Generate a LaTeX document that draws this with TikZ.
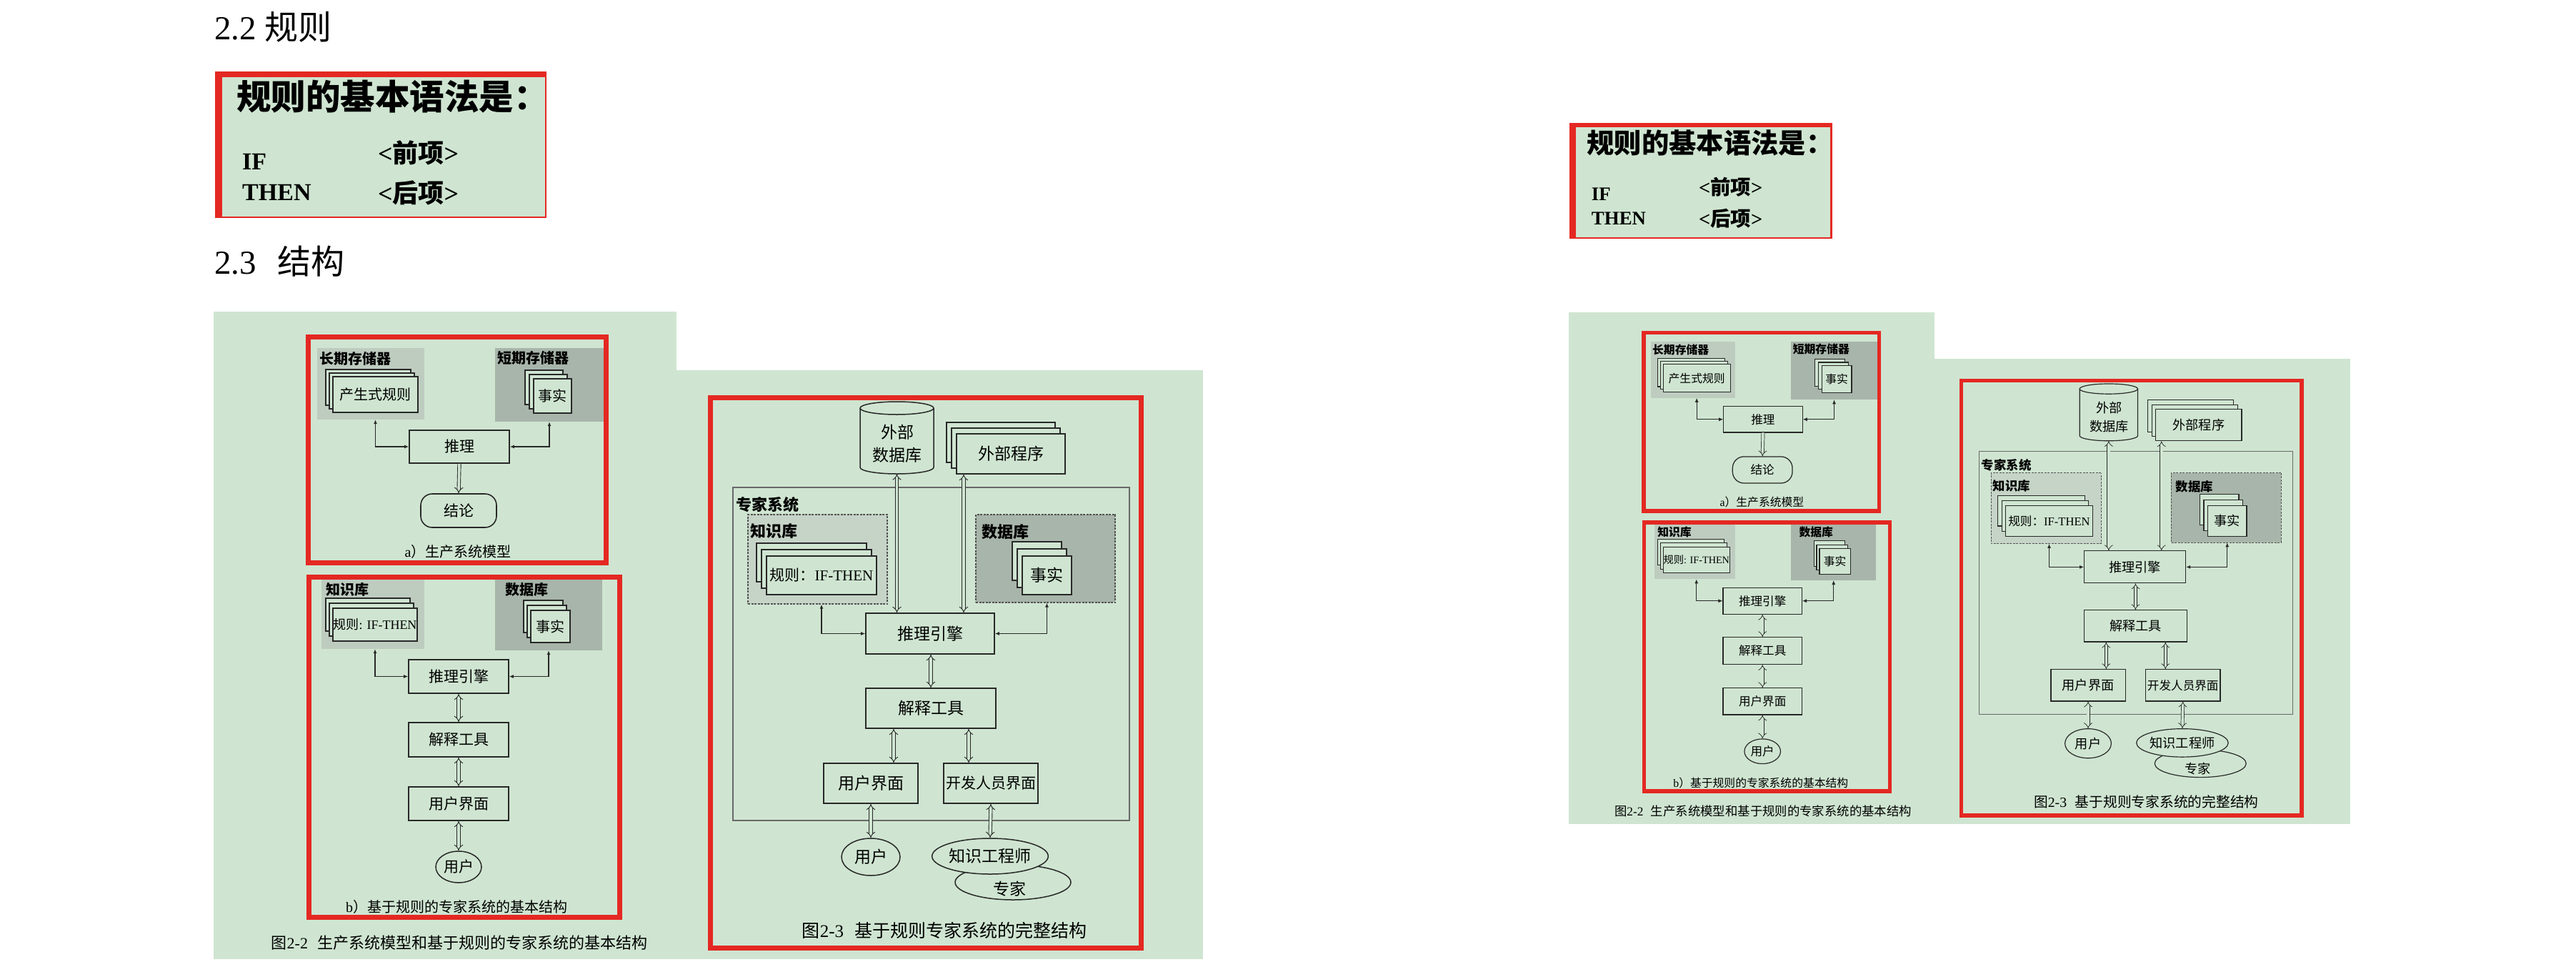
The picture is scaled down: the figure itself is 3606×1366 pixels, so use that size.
\documentclass[tikz,border=0pt]{standalone}
\usepackage{fontspec}
\setmainfont{Liberation Serif}
\newfontfamily\cjk{Noto Sans CJK SC}
\usetikzlibrary{arrows.meta,shapes.geometric}
\definecolor{bggreen}{RGB}{207,229,209}
\definecolor{redb}{RGB}{228,40,34}
\definecolor{greyA}{RGB}{190,204,192}
\definecolor{greyB}{RGB}{168,181,170}
\definecolor{greyC}{RGB}{198,212,200}
\definecolor{ink}{RGB}{40,40,40}
\newcommand\fs[1]{\fontsize{#1}{#1}\selectfont}
\newcommand\LW{1}
\tikzset{
 box/.style={draw=ink,line width=\LW*1.6pt,fill=bggreen,inner sep=0pt,font=\cjk\fs{21}},
 card/.style={draw=ink,line width=\LW*1.5pt,fill=bggreen,inner sep=0pt,font=\cjk\fs{20}},
 region/.style={draw=none,inner sep=0pt},
 dregion/.style={draw=ink!80,line width=\LW*1.2pt,dash pattern=on 3pt off 1.5pt,inner sep=0pt},
 lbl/.style={inner sep=0pt,font=\cjk\bfseries\fs{20}},
 txt/.style={inner sep=0pt,font=\cjk\fs{20}},
 conn/.style={draw=ink,line width=\LW*1.1pt,{Latex[length=6pt,width=5pt]}-{Latex[length=6pt,width=5pt]}},
 dbl/.style={draw=ink,line width=\LW*0.9pt,double=bggreen,double distance=3.5pt},
 dblboth/.style={dbl,{Implies}-{Implies}},
 dblend/.style={dbl,-{Implies}},
 redframe/.style={draw=redb,line width=\LW*7pt},
 ell/.style={ellipse,draw=ink,line width=\LW*1.5pt,fill=bggreen,inner sep=0pt,font=\cjk\fs{21}},
}
\newcommand\rulebox[1]{%
 \fill[bggreen] (301,100) rectangle (765,305);
 \draw[redb,line width=2.5pt] (302.25,101.25) rectangle (763.75,303.75);
 \fill[redb] (300.5,100) rectangle (311,305);
 \fill[redb] (300.5,100) rectangle (765,108);
 \node[anchor=west,inner sep=0pt,font=\cjk\bfseries\fs{48.5}] (#1rt) at (331,135) {规则的基本语法是：};
 \node[anchor=base west,inner sep=0pt,font=\bfseries\fs{34}] (#1if) at (339,237) {IF};
 \node[anchor=base west,inner sep=0pt,font=\bfseries\fs{34}] (#1then) at (339,280) {THEN};
 \node[anchor=base west,inner sep=0pt,font=\bfseries\fs{36}] (#1pre) at (529,227) {<{\cjk 前项}>};
 \node[anchor=base west,inner sep=0pt,font=\bfseries\fs{36}] (#1post) at (529,283) {<{\cjk 后项}>};
}
\newcommand\figs[1]{%
 \fill[bggreen] (299,436) rectangle (947,1342);
 \fill[bggreen] (947,518) rectangle (1684,1342);
 % ---------- (a)
 \node[region,fill=greyA,minimum width=150pt,minimum height=100pt] (#1gl) at (519,537) {};
 \node[region,fill=greyB,minimum width=152pt,minimum height=103pt] (#1gr) at (769,538.5) {};
 \node[lbl] (#1ll) at (497,502) {长期存储器};
 \node[lbl] (#1lr) at (746,501) {短期存储器};
 \node[card,minimum width=119pt,minimum height=50pt] (#1pa) at (515.5,542) {};
 \node[card,minimum width=119pt,minimum height=50pt] (#1pb) at (520.5,547) {};
 \node[card,minimum width=119pt,minimum height=50pt] (#1pc) at (525.5,552) {产生式规则};
 \node[card,minimum width=53pt,minimum height=48pt] (#1fa) at (761.5,542) {};
 \node[card,minimum width=53pt,minimum height=48pt] (#1fb) at (767.5,548) {};
 \node[card,minimum width=53pt,minimum height=48pt] (#1fc) at (773.5,554) {事实};
 \node[box,minimum width=140pt,minimum height=46pt] (#1tl) at (643,625) {推理};
 \node[box,rounded corners=16pt,minimum width=106pt,minimum height=47pt] (#1jl) at (642,714.5) {结论};
 \node[txt] (#1ca) at (641,772) {{\rmfamily a}）生产系统模型};
 \draw[conn] (#1gl.south -| #1pc.south) |- (#1tl.west);
 \draw[conn] (#1gr.south) |- (#1tl.east);
 \draw[dblend] (#1tl.south) -- (#1jl.north);
 \draw[redframe] (431.5,471.5) rectangle (848.5,787.5);
 % ---------- (b)
 \node[region,fill=greyA,minimum width=144pt,minimum height=97pt] (#1gl2) at (522,859.5) {};
 \node[region,fill=greyB,minimum width=150pt,minimum height=99pt] (#1gr2) at (768,860.5) {};
 \node[lbl] (#1lk) at (486,825) {知识库};
 \node[lbl] (#1ld) at (737,825) {数据库};
 \node[card,minimum width=118pt,minimum height=46pt] (#1ra) at (515,860) {};
 \node[card,minimum width=118pt,minimum height=46pt] (#1rb) at (520,867) {};
 \node[card,minimum width=118pt,minimum height=46pt,font=\cjk\fs{18}] (#1rc) at (525,874) {规则{\rmfamily: IF-THEN}};
 \node[card,minimum width=55pt,minimum height=45pt] (#1sa) at (760.5,862.5) {};
 \node[card,minimum width=55pt,minimum height=45pt] (#1sb) at (765.5,869.5) {};
 \node[card,minimum width=55pt,minimum height=45pt] (#1sc) at (770.5,876.5) {事实};
 \node[box,minimum width=140pt,minimum height=47pt] (#1e2) at (642,946.5) {推理引擎};
 \node[box,minimum width=140pt,minimum height=48pt] (#1x2) at (642,1035) {解释工具};
 \node[box,minimum width=140pt,minimum height=47pt] (#1u2) at (642,1124.5) {用户界面};
 \node[ell,minimum width=64pt,minimum height=44pt] (#1y2) at (642,1213) {用户};
 \node[txt] (#1cb) at (639,1269) {{\rmfamily b}）基于规则的专家系统的基本结构};
 \draw[conn] (#1gl2.south -| #1rc.south) |- (#1e2.west);
 \draw[conn] (#1gr2.south) |- (#1e2.east);
 \draw[dblboth] (#1e2.south) -- (#1x2.north);
 \draw[dblboth] (#1x2.south) -- (#1u2.north);
 \draw[dblboth] (#1u2.south) -- (#1y2.north);
 \draw[redframe] (432.5,807.5) rectangle (867.5,1283.5);
 \node[txt,font=\cjk\fs{22}] (#1c22) at (643,1319) {图{\rmfamily 2-2}\hspace{0.6em}生产系统模型和基于规则的专家系统的基本结构};
 % ---------- fig 2-3
 \node[region,draw=ink!70,line width=\LW*1.2pt,minimum width=555pt,minimum height=466pt] (#1es) at (1303.5,915) {};
 \node[lbl,anchor=west,font=\cjk\bfseries\fs{22}] (#1esl) at (1030,706) {专家系统};
 \node[dregion,fill=greyC,minimum width=195pt,minimum height=125pt] (#1kb) at (1144.5,782.5) {};
 \node[lbl,anchor=west,font=\cjk\bfseries\fs{22}] (#1kbl) at (1050,743) {知识库};
 \node[card,minimum width=154pt,minimum height=54pt] (#1ka) at (1136,787) {};
 \node[card,minimum width=154pt,minimum height=54pt] (#1kbb) at (1143,796) {};
 \node[card,minimum width=154pt,minimum height=54pt,font=\cjk\fs{21}] (#1kc) at (1150,805) {规则：{\rmfamily IF-THEN}};
 \node[dregion,fill=greyB,minimum width=195pt,minimum height=123pt] (#1db) at (1463.5,781.5) {};
 \node[lbl,anchor=west,font=\cjk\bfseries\fs{22}] (#1dbl) at (1374,744) {数据库};
 \node[card,minimum width=69pt,minimum height=54pt] (#1ta) at (1451.5,785) {};
 \node[card,minimum width=69pt,minimum height=54pt] (#1tb) at (1458.5,795) {};
 \node[card,minimum width=69pt,minimum height=54pt,font=\cjk\fs{23}] (#1tc) at (1465.5,805) {事实};
 % cylinder
 \fill[bggreen] (1204,571) rectangle (1307,654);
 \fill[bggreen] (1255.5,654) ellipse [x radius=51.5,y radius=9];
 \draw[ink,line width=\LW*1.5pt] (1204,571) -- (1204,654) arc[start angle=180,end angle=0,x radius=51.5,y radius=9] -- (1307,571);
 \draw[ink,line width=\LW*1.5pt] (1255.5,571) ellipse [x radius=51.5,y radius=9];
 \node[inner sep=0pt,minimum width=103pt,minimum height=101pt] (#1cyl) at (1255.5,612.5) {};
 \node[inner sep=0pt,align=center,font=\cjk\fontsize{23}{32}\selectfont] (#1cylt) at (1256,621) {外部\\数据库};
 \node[card,minimum width=152pt,minimum height=56pt] (#1pga) at (1401,619) {};
 \node[card,minimum width=152pt,minimum height=56pt] (#1pgb) at (1408,627) {};
 \node[card,minimum width=152pt,minimum height=56pt,font=\cjk\fs{23}] (#1pgc) at (1415,635) {外部程序};
 \node[box,minimum width=180pt,minimum height=57pt,font=\cjk\fs{23}] (#1e3) at (1302,886.5) {推理引擎};
 \node[box,minimum width=182pt,minimum height=56pt,font=\cjk\fs{23}] (#1x3) at (1303,991) {解释工具};
 \node[box,minimum width=132pt,minimum height=56pt,font=\cjk\fs{23}] (#1u3) at (1219,1096) {用户界面};
 \node[box,minimum width=132pt,minimum height=56pt,font=\cjk\fs{21}] (#1d3) at (1387,1096) {开发人员界面};
 \node[ell,minimum width=82pt,minimum height=52pt,font=\cjk\fs{23}] (#1y3) at (1219,1199) {用户};
 \node[ell,minimum width=162pt,minimum height=49pt] (#1zj) at (1418,1234.5) {};
 \node[ell,minimum width=160pt,minimum height=50pt,font=\cjk\fs{23}] (#1kg) at (1386,1198) {知识工程师};
 \node[txt,font=\cjk\fs{23}] (#1zjt) at (1413,1244) {专家};
 \coordinate (#1xa) at (1349,0);
 \coordinate (#1xb) at (1251,0);
 \coordinate (#1xc) at (1356,0);
 \draw[dblboth] (#1cyl.south) -- (#1cyl.south |- #1e3.north);
 \draw[dblboth] (#1pgc.south -| #1xa) -- (#1e3.north -| #1xa);
 \draw[conn] (#1kb.south -| #1kc.south) |- (#1e3.west);
 \draw[conn] (#1db.south -| #1tc.south) |- (#1e3.east);
 \draw[dblboth] (#1e3.south -| #1x3.north) -- (#1x3.north);
 \draw[dblboth] (#1x3.south -| #1xb) -- (#1u3.north -| #1xb);
 \draw[dblboth] (#1x3.south -| #1xc) -- (#1d3.north -| #1xc);
 \draw[dblboth] (#1u3.south) -- (#1y3.north);
 \draw[dblboth] (#1d3.south) -- (#1kg.north);
 \node[txt,font=\cjk\fs{25}] (#1c23) at (1322,1302) {图{\rmfamily 2-3}\hspace{0.6em}基于规则专家系统的完整结构};
 \draw[redframe] (994.5,556.5) rectangle (1597.5,1326.5);
}
\begin{document}
\begin{tikzpicture}[x=1pt,y=-1pt]
\useasboundingbox (0,0) rectangle (3606,1366);
\fill[white] (0,0) rectangle (3606,1366);
\node[anchor=base west,inner sep=0pt,font=\fs{47}] (h22) at (300,55) {2.2 {\cjk 规则}};
\node[anchor=base west,inner sep=0pt,font=\fs{47}] (h23) at (300,383) {2.3\hspace{0.62em}{\cjk 结构}};
\rulebox{L}
\figs{L}
\begin{scope}[shift={(1960,93)},scale=0.79,transform shape]
\renewcommand\LW{0.79}
\rulebox{R}
\figs{R}
\end{scope}
\end{tikzpicture}
\end{document}
